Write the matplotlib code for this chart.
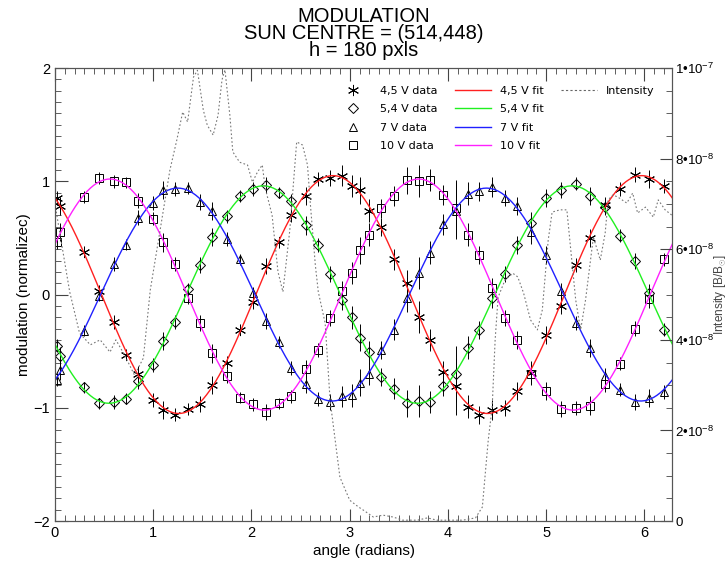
import numpy as np
import matplotlib
matplotlib.use("Agg")
import matplotlib.pyplot as plt
from matplotlib.lines import Line2D
from matplotlib.ticker import MultipleLocator, FixedLocator

plt.rcParams['font.family'] = ['Liberation Sans', 'DejaVu Sans']
plt.rcParams['mathtext.fontset'] = 'custom'
plt.rcParams['mathtext.rm'] = 'Liberation Sans'
plt.rcParams['mathtext.it'] = 'Liberation Sans:italic'

# modulator angles (radians), shared by all voltages
angle = [0.02, 0.05, 0.30, 0.45, 0.60, 0.72, 0.85, 1.00, 1.10, 1.22, 1.35, 1.48,
         1.60, 1.75, 1.88, 2.02, 2.15, 2.28, 2.40, 2.55, 2.68, 2.80, 2.92, 3.02,
         3.10, 3.20, 3.32, 3.45, 3.58, 3.70, 3.82, 3.95, 4.08, 4.20, 4.32, 4.45,
         4.58, 4.70, 4.85, 5.00, 5.15, 5.30, 5.45, 5.60, 5.75, 5.90, 6.05, 6.20]

err = [0.06, 0.08, 0.05, 0.05, 0.06, 0.05, 0.07, 0.06, 0.08, 0.06, 0.05, 0.07,
       0.08, 0.06, 0.05, 0.06, 0.07, 0.05, 0.06, 0.08, 0.06, 0.07, 0.09, 0.10,
       0.12, 0.10, 0.08, 0.09, 0.12, 0.14, 0.10, 0.09, 0.25, 0.10, 0.08, 0.09,
       0.07, 0.08, 0.10, 0.08, 0.07, 0.06, 0.08, 0.07, 0.06, 0.07, 0.08, 0.06]

mod_45 = [0.85, 0.78, 0.38, 0.03, -0.24, -0.53, -0.70, -0.93, -1.02, -1.06, -1.01, -0.97,
          -0.80, -0.60, -0.31, -0.07, 0.25, 0.46, 0.70, 0.87, 1.02, 1.03, 1.05, 0.96,
          0.92, 0.74, 0.60, 0.31, 0.10, -0.20, -0.40, -0.68, -0.81, -0.99, -1.06, -1.02,
          -1.00, -0.85, -0.69, -0.36, -0.10, 0.26, 0.50, 0.79, 0.93, 1.06, 1.02, 0.96]
mod_54 = [-0.45, -0.54, -0.82, -0.96, -0.95, -0.92, -0.76, -0.62, -0.41, -0.24, 0.05, 0.26,
          0.51, 0.69, 0.87, 0.93, 0.97, 0.90, 0.83, 0.61, 0.44, 0.18, -0.05, -0.20,
          -0.38, -0.51, -0.73, -0.83, -0.96, -0.94, -0.95, -0.81, -0.70, -0.47, -0.31, -0.03,
          0.18, 0.44, 0.63, 0.85, 0.92, 0.98, 0.87, 0.77, 0.52, 0.30, 0.01, -0.31]
mod_7 = [-0.75, -0.67, -0.32, -0.01, 0.27, 0.44, 0.68, 0.81, 0.92, 0.93, 0.94, 0.82,
         0.74, 0.49, 0.31, 0.01, -0.23, -0.42, -0.65, -0.79, -0.92, -0.95, -0.90, -0.89,
         -0.78, -0.70, -0.49, -0.31, -0.03, 0.19, 0.37, 0.62, 0.74, 0.89, 0.91, 0.95,
         0.85, 0.78, 0.55, 0.35, 0.03, -0.25, -0.47, -0.72, -0.84, -0.95, -0.91, -0.86]
mod_10 = [0.46, 0.55, 0.86, 1.03, 1.00, 0.99, 0.83, 0.67, 0.46, 0.27, -0.03, -0.25,
          -0.52, -0.72, -0.91, -0.97, -1.04, -0.96, -0.90, -0.66, -0.49, -0.21, 0.03, 0.19,
          0.39, 0.53, 0.76, 0.87, 1.01, 1.00, 1.01, 0.88, 0.76, 0.53, 0.35, 0.06,
          -0.21, -0.40, -0.70, -0.85, -1.01, -1.00, -0.98, -0.79, -0.61, -0.30, -0.04, 0.31]

# fit parameters: amplitude and angle of maximum (period pi)
fit_amp = [1.05, 0.96, 0.94, 1.02]
fit_peak = [2.83, 2.12, 1.25, 0.56]

labels = ['4,5 V', '5,4 V', '7 V', '10 V']
colors = ['#ff2020', '#20f020', '#2020ff', '#ff20ff']
markers = [(6, 2, 0), 'D', '^', 's']
msizes = [8, 5, 6, 6]

# intensity profile (units of 1e-8)
int_angle = [0.00, 0.07, 0.15, 0.25, 0.36, 0.46, 0.56, 0.62, 0.71, 0.81, 0.90, 0.97,
             1.07, 1.17, 1.24, 1.30, 1.35, 1.41, 1.45, 1.51, 1.55, 1.61, 1.66, 1.70,
             1.73, 1.78, 1.81, 1.88, 1.96, 2.01, 2.06, 2.11, 2.14, 2.21, 2.27, 2.32,
             2.39, 2.46, 2.52, 2.57, 2.60, 2.65, 2.68, 2.75, 2.80, 2.90, 3.00, 3.09,
             3.14, 3.24, 3.34, 3.44, 3.54, 3.69, 3.79, 3.89, 4.02, 4.15, 4.28, 4.35,
             4.38, 4.41, 4.45, 4.48, 4.51, 4.58, 4.66, 4.71, 4.77, 4.84, 4.91, 4.96,
             5.02, 5.06, 5.14, 5.21, 5.24, 5.30, 5.35, 5.40, 5.48, 5.55, 5.60, 5.63,
             5.68, 5.73, 5.82, 5.88, 5.93, 6.01, 6.09, 6.14, 6.21, 6.28]
intensity = [7.00, 6.09, 5.06, 4.15, 3.89, 4.00, 3.73, 4.00, 3.66, 3.22, 3.60, 5.10,
             6.42, 7.75, 8.41, 9.03, 8.81, 9.80, 9.95, 9.07, 8.74, 8.52, 8.96, 9.74,
             9.96, 8.96, 8.15, 7.92, 7.86, 7.48, 7.70, 7.86, 7.35, 6.75, 5.50, 5.06,
             6.42, 8.37, 8.30, 7.86, 6.98, 5.65, 5.06, 4.37, 2.67, 0.97, 0.46, 0.31,
             0.24, 0.09, 0.13, 0.09, 0.02, 0.02, 0.07, 0.02, 0.02, 0.02, 0.07, 0.31,
             1.06, 1.79, 2.52, 4.00, 4.94, 5.32, 5.47, 5.39, 5.03, 4.44, 4.22, 4.66,
             6.20, 6.82, 6.87, 6.87, 6.20, 4.88, 4.22, 4.88, 6.27, 5.76, 6.36, 7.09,
             7.20, 7.15, 7.02, 7.24, 6.80, 6.93, 6.71, 7.09, 6.87, 6.75]

fig = plt.figure(figsize=(7.28, 5.67), dpi=100)
ax = fig.add_axes([0.0755, 0.081, 0.848, 0.799])
ax2 = ax.twinx()

series = [mod_45, mod_54, mod_7, mod_10]
handles_data = []
handles_fit = []
xfit = np.linspace(0, 2 * np.pi, 400)
for i, vals in enumerate(series):
    ax.errorbar(angle, vals, yerr=err, fmt='none', ecolor='black', elinewidth=0.7,
                capsize=0, zorder=2)
    ax.plot(angle, vals, linestyle='none', marker=markers[i], markersize=msizes[i],
            mfc='none', mec='black', mew=0.7, zorder=3)
    yfit = fit_amp[i] * np.cos(2 * (xfit - fit_peak[i]))
    ax.plot(xfit, yfit, color=colors[i], lw=1.0, zorder=4)
    handles_data.append(Line2D([], [], linestyle='none', marker=markers[i],
                               markersize=msizes[i], mfc='none', mec='black',
                               mew=0.7, label=labels[i] + ' data'))
    handles_fit.append(Line2D([], [], color=colors[i], lw=1.0,
                              label=labels[i] + ' fit'))

int_line, = ax2.plot(int_angle, np.array(intensity) * 1e-8, color='#777777',
                     lw=0.8, linestyle=(0, (1.5, 2)))

ax.set_xlim(0, 2 * np.pi)
ax.set_ylim(-2, 2)
ax2.set_ylim(0, 1e-7)

ax.xaxis.set_major_locator(MultipleLocator(1))
ax.xaxis.set_minor_locator(MultipleLocator(0.1))
ax.yaxis.set_major_locator(MultipleLocator(1))
ax.yaxis.set_minor_locator(MultipleLocator(0.1))
ax.tick_params(which='both', direction='in', top=True, right=False,
               colors='#444444', labelcolor='black', labelsize=10.5)
ax.tick_params(which='major', length=9, width=0.8)
ax.tick_params(which='minor', length=4.5, width=0.6)

rticks = [0, 2e-8, 4e-8, 6e-8, 8e-8, 1e-7]
rlabels = ['0', '2\u202210$^{-8}$', '4\u202210$^{-8}$', '6\u202210$^{-8}$',
           '8\u202210$^{-8}$', '1\u202210$^{-7}$']
ax2.yaxis.set_major_locator(FixedLocator(rticks))
ax2.set_yticklabels(rlabels)
ax2.yaxis.set_minor_locator(MultipleLocator(0.5e-8))
ax2.tick_params(which='both', direction='in', colors='#444444', labelcolor='black',
                labelsize=9.5, pad=2)
ax2.tick_params(which='major', length=9, width=0.8)
ax2.tick_params(which='minor', length=4.5, width=0.6)

for a in (ax, ax2):
    for s in a.spines.values():
        s.set_color('#555555')
        s.set_linewidth(0.8)

ax.set_xlabel('angle (radians)', fontsize=11, labelpad=3)
ax.set_ylabel('modulation (normalizec)', fontsize=11, labelpad=2)
ax2.set_ylabel(r'Intensity [B/B$_{\odot}$]', fontsize=8.5, color='#444444',
               va='center', ha='center')
ax2.yaxis.set_label_coords(1.0765, 0.5)

fig.text(0.5, 0.988, 'MODULATION\nSUN CENTRE = (514,448)\nh = 180 pxls',
         ha='center', va='top', fontsize=14.5, linespacing=0.88)

blank = Line2D([], [], alpha=0)
int_handle = Line2D([], [], color='#666666', lw=0.8, linestyle=(0, (2, 2)),
                    label='Intensity')
handles = handles_data + handles_fit + [int_handle, blank, blank, blank]
labs = [h.get_label() for h in handles_data + handles_fit] + ['Intensity', '', '', '']
leg = ax2.legend(handles, labs, ncol=3, loc='upper right', frameon=False,
                 prop={'family': 'DejaVu Sans', 'size': 8}, handlelength=3.2,
                 columnspacing=1.6, labelspacing=0.75, borderaxespad=0.4,
                 bbox_to_anchor=(0.985, 0.98))

fig.savefig('out.png', dpi=100)
